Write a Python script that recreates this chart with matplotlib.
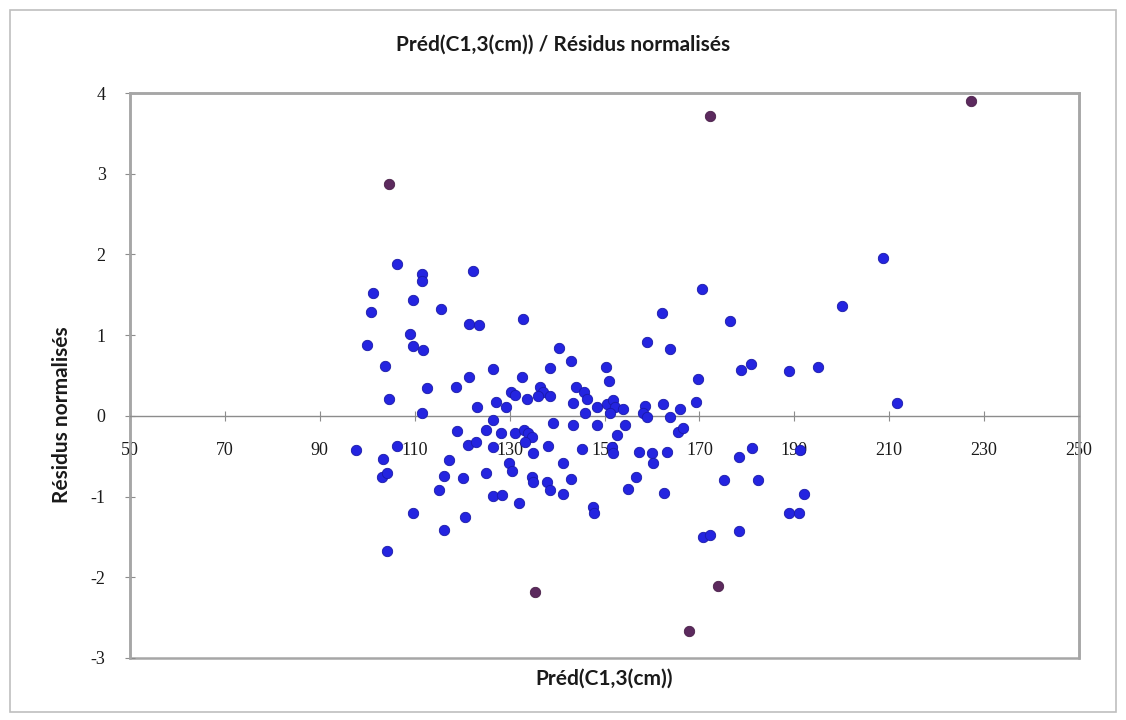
import matplotlib
matplotlib.use("Agg")
import matplotlib.pyplot as plt
from matplotlib.patches import Rectangle
import numpy as np

plt.rcParams["axes.unicode_minus"] = False

# Predicted values and normalised residuals (regular observations)
pred = [97.6, 100.0, 100.8, 101.2, 103.7, 103.3, 103.1, 104.2, 104.6, 104.2,
        106.3, 106.3, 109.0, 109.6, 109.6, 111.8, 109.6, 111.5, 111.5, 111.5,
        112.6, 115.5, 115.1, 116.2, 116.2, 117.2, 118.7, 118.9, 120.2, 120.6,
        121.4, 123.6, 121.4, 122.3, 121.2, 122.9, 123.1, 125.0, 125.0, 126.5,
        126.5, 126.5, 126.5, 128.4, 127.1, 129.2, 128.2, 129.9, 130.5, 130.3,
        131.1, 131.1, 132.0, 132.6, 132.8, 133.0, 133.9, 134.7, 133.2, 133.7,
        134.9, 134.7, 134.9, 136.4, 137.0, 138.5, 136.0, 138.1, 137.9, 138.5,
        138.5, 139.1, 140.4, 141.3, 141.3, 142.9, 142.9, 143.4, 143.4, 144.0,
        145.7, 146.3, 145.3, 145.9, 147.6, 147.8, 148.4, 148.4, 150.3, 150.9,
        150.5, 151.8, 152.2, 153.9, 151.2, 151.6, 151.8, 152.6, 154.3, 155.0,
        156.6, 157.3, 158.5, 158.1, 159.0, 159.0, 160.0, 160.2, 162.1, 162.3,
        162.5, 163.2, 163.8, 163.8, 165.9, 165.5, 166.5, 169.3, 169.7, 170.5,
        170.8, 172.2, 175.2, 176.4, 178.3, 178.3, 178.8, 180.9, 181.1, 182.4,
        188.9, 188.9, 191.0, 191.2, 192.0, 195.0, 200.1, 208.7, 211.6]
resid = [-0.42, 0.88, 1.29, 1.52, 0.62, -0.53, -0.76, -0.71, 0.21, -1.67,
         1.88, -0.37, 1.02, 1.44, 0.86, 0.81, -1.20, 1.76, 1.67, 0.04,
         0.35, 1.33, -0.92, -1.41, -0.74, -0.55, 0.36, -0.19, -0.77, -1.25,
         1.14, 1.13, 0.48, 1.80, -0.36, -0.33, 0.11, -0.17, -0.71, 0.58,
         -0.05, -0.38, -0.99, -0.98, 0.17, 0.11, -0.21, -0.58, -0.68, 0.30,
         0.26, -0.21, -1.08, 0.48, 1.20, -0.17, -0.21, -0.26, -0.33, 0.21,
         -0.46, -0.76, -0.82, 0.36, 0.29, 0.25, 0.24, -0.37, -0.82, -0.92,
         0.59, -0.09, 0.84, -0.58, -0.97, 0.68, -0.78, 0.16, -0.11, 0.36,
         0.29, 0.21, -0.41, 0.04, -1.13, -1.20, 0.11, -0.11, 0.61, 0.43,
         0.15, 0.20, 0.11, 0.09, 0.04, -0.38, -0.46, -0.24, -0.11, -0.90,
         -0.76, -0.45, 0.12, 0.04, -0.02, 0.92, -0.46, -0.58, 1.28, 0.15,
         -0.95, -0.45, 0.83, -0.02, 0.09, -0.20, -0.15, 0.17, 0.46, 1.57,
         -1.50, -1.47, -0.79, 1.18, -0.51, -1.43, 0.57, 0.64, -0.40, -0.79,
         0.56, -1.20, -1.20, -0.42, -0.97, 0.61, 1.36, 1.95, 0.16]

# Observations with |residual| > 2
pred_out = [104.6, 172.2, 227.2, 135.4, 173.9, 167.8]
resid_out = [2.87, 3.71, 3.90, -2.18, -2.11, -2.66]

x_ticks = list(range(50, 251, 20))
y_ticks = list(range(-3, 5))

title = "Préd(C1,3(cm)) / Résidus normalisés"
x_label = "Préd(C1,3(cm))"
y_label = "Résidus normalisés"

W, H = 1126, 720
fig = plt.figure(figsize=(W / 100, H / 100), dpi=100)
fig.patch.set_facecolor("white")

# outer chart frame
fig.add_artist(Rectangle((10 / W, 8 / H), 1106 / W, 702 / H,
                         transform=fig.transFigure, fill=False,
                         edgecolor="#bfbfbf", linewidth=1.2))

ax = fig.add_axes([130 / W, 62 / H, 949 / W, 565 / H])
ax.set_xlim(50, 250)
ax.set_ylim(-3, 4)

ax.scatter(pred, resid, s=56, color="#2424e0", edgecolors="#1a1aa8",
           linewidths=0.6, zorder=3)
ax.scatter(pred_out, resid_out, s=56, color="#5c2a5e", edgecolors="#4a2049",
           linewidths=0.6, zorder=3)

frame_col = "#a6a6a6"
for side in ["top", "right", "left"]:
    ax.spines[side].set_color(frame_col)
    ax.spines[side].set_linewidth(1.8)
ax.spines["bottom"].set_position(("data", 0))
ax.spines["bottom"].set_color("#8c8c8c")
ax.spines["bottom"].set_linewidth(1.0)
# bottom edge of the plot area
ax.add_artist(Rectangle((0, 0), 1, 1, transform=ax.transAxes, fill=False,
                        edgecolor=frame_col, linewidth=1.8, clip_on=False,
                        zorder=0))

ax.set_xticks(x_ticks)
ax.set_yticks(y_ticks)
ax.tick_params(axis="x", direction="inout", length=7, width=0.8,
               color="#8c8c8c", pad=15, labelsize=13, labelcolor="#1a1a1a")
ax.tick_params(axis="y", direction="inout", length=7, width=0.8,
               color="#8c8c8c", pad=14, labelsize=13, labelcolor="#1a1a1a")
for lab in ax.get_xticklabels() + ax.get_yticklabels():
    lab.set_fontfamily("Liberation Serif")

lab_font = dict(family=["Lato", "DejaVu Sans"], weight="bold", size=15,
                color="#1a1a1a")
fig.text(0.5, 1 - 45 / H, title, ha="center", va="center", **lab_font)
fig.text(0.5 * (130 + 1079) / W, 1 - 679 / H, x_label, ha="center",
         va="center", **lab_font)
fig.text(62 / W, 1 - 415 / H, y_label, ha="center", va="center",
         rotation=90, **lab_font)

fig.savefig("out.png", dpi=100, facecolor="white")
